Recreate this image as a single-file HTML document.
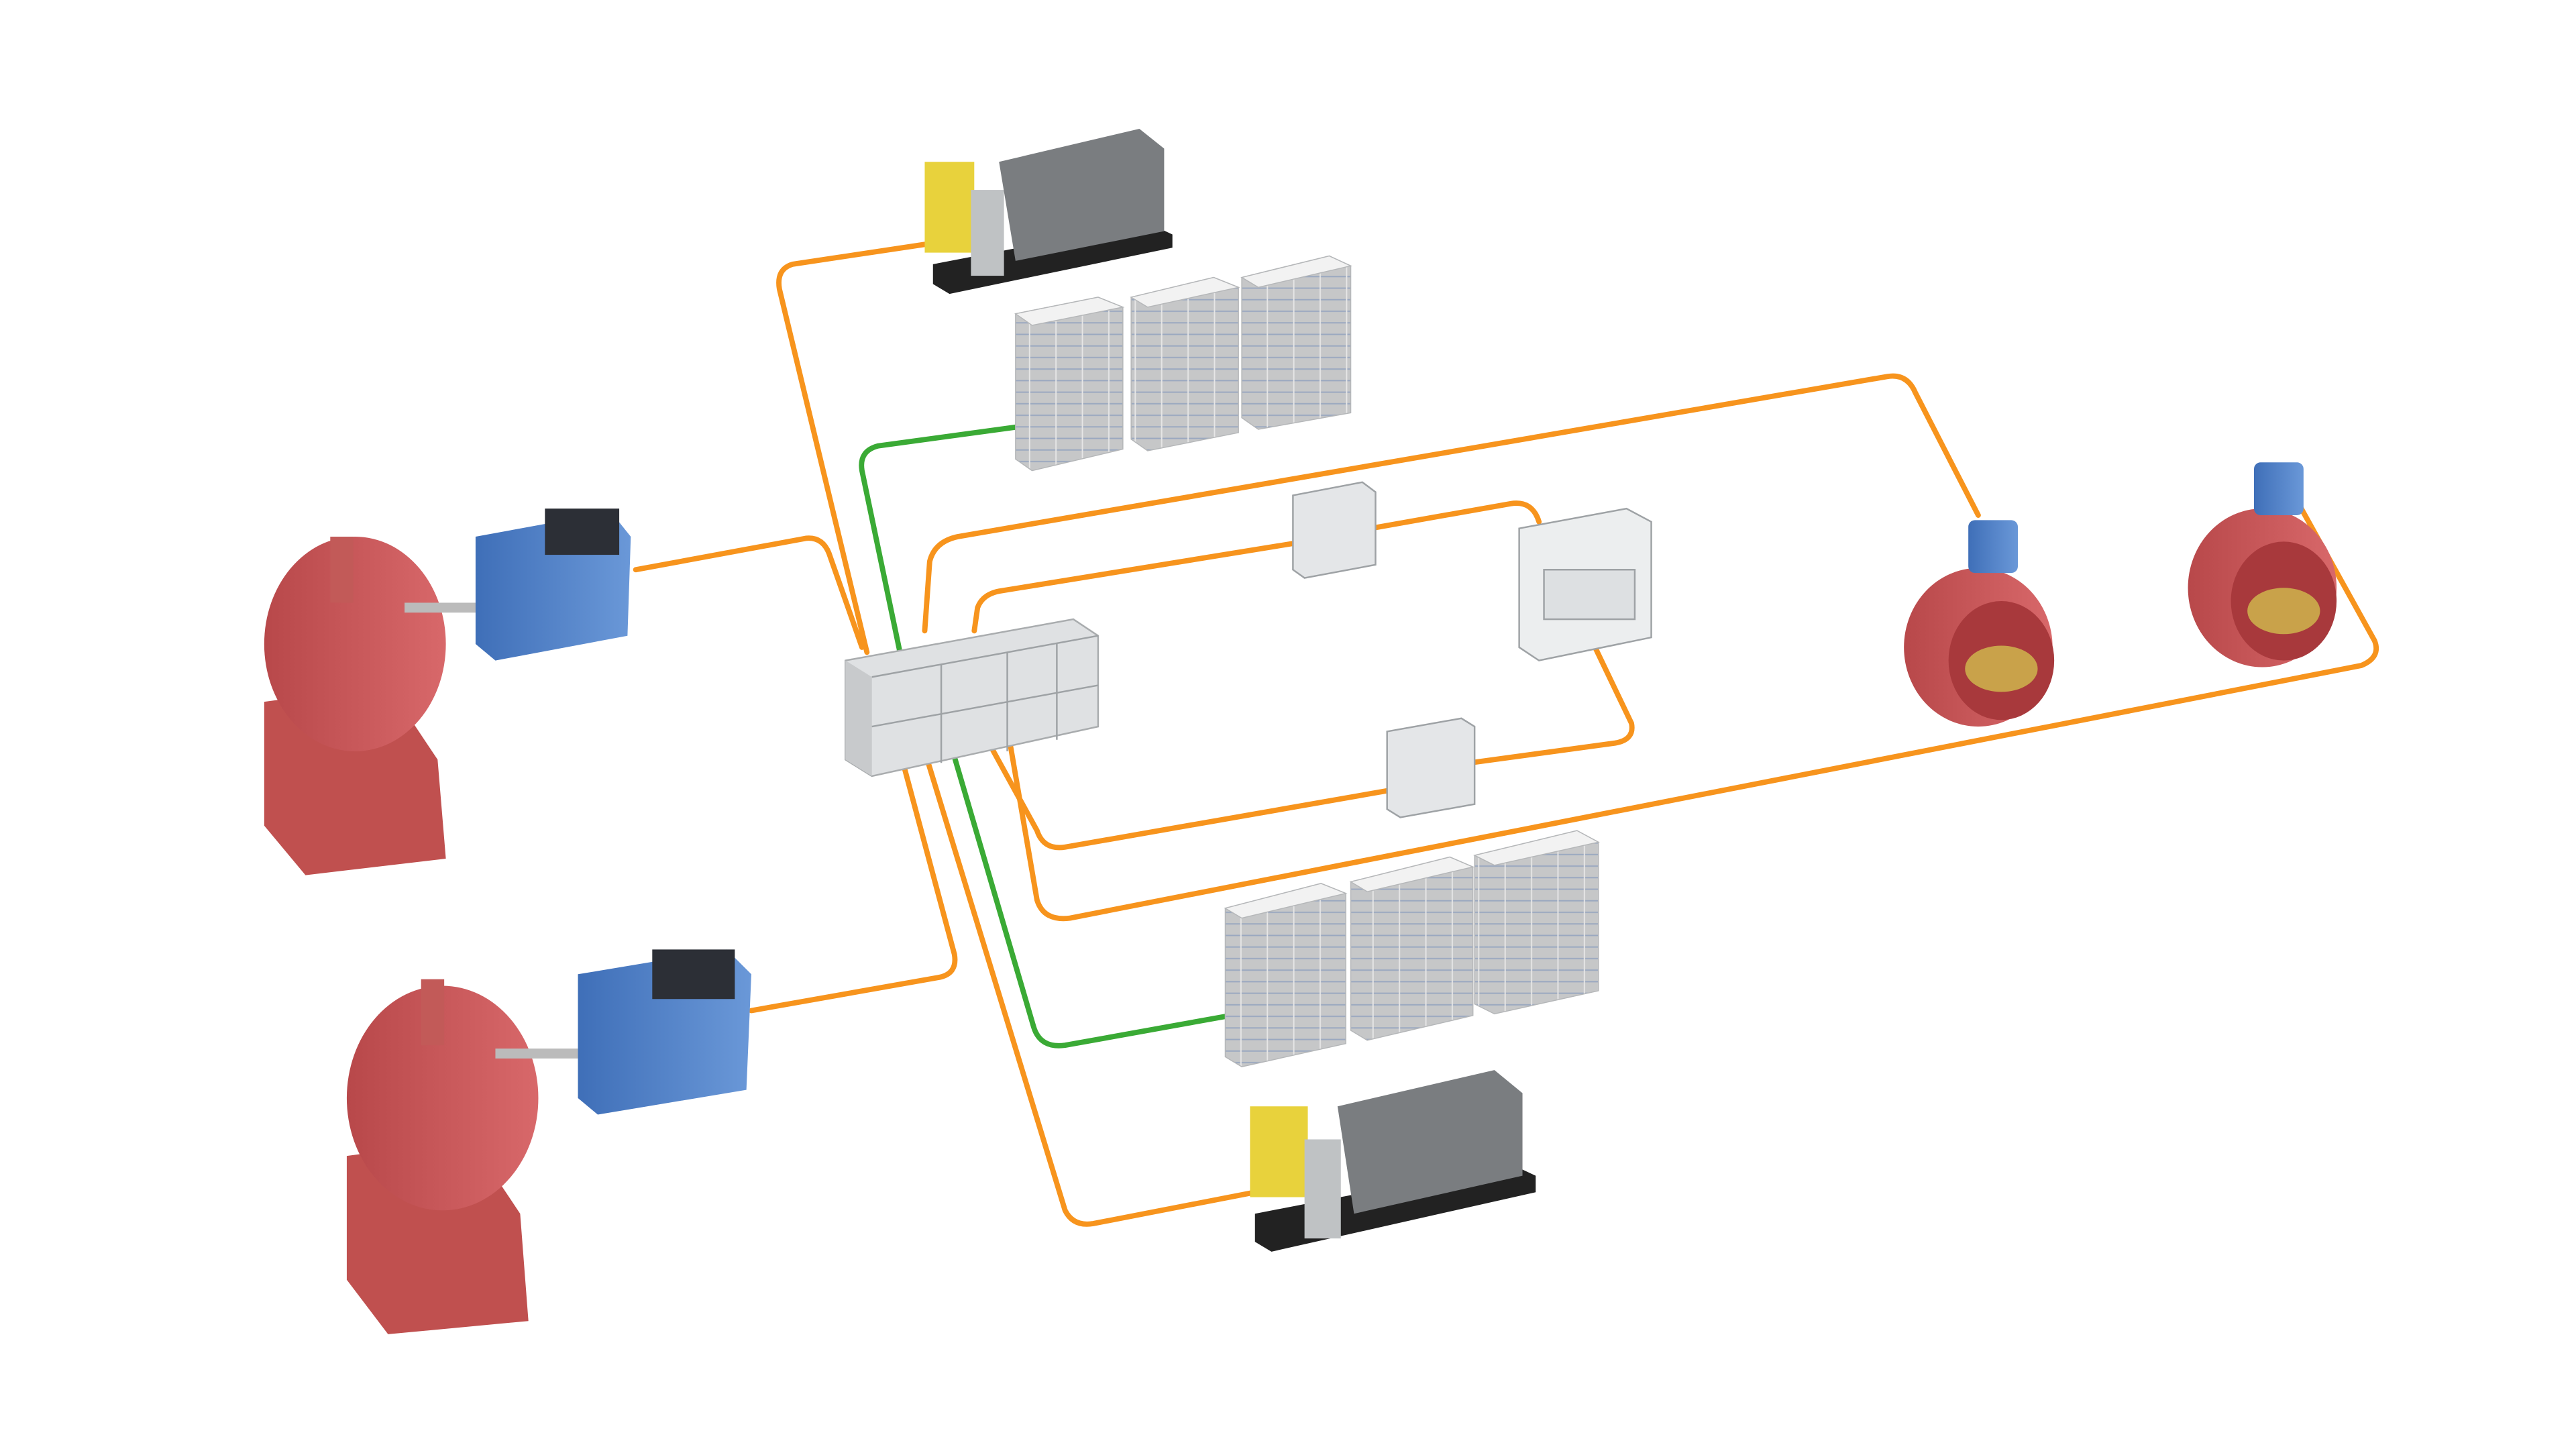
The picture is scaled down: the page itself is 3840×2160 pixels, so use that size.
<!DOCTYPE html>
<html><head><meta charset="utf-8"><style>html,body{margin:0;padding:0;background:#fff;width:3840px;height:2160px;overflow:hidden}svg{display:block}</style></head>
<body>
<svg width="3840" height="2160" viewBox="0 0 1560 877.5" preserveAspectRatio="none" xmlns="http://www.w3.org/2000/svg">
<defs>
<linearGradient id="red" x1="0" x2="1"><stop offset="0" stop-color="#b8484a"/><stop offset="1" stop-color="#d8686a"/></linearGradient>
<linearGradient id="blue" x1="0" x2="1"><stop offset="0" stop-color="#3f6fb8"/><stop offset="1" stop-color="#6a98d8"/></linearGradient>
<pattern id="grid" width="16" height="7" patternUnits="userSpaceOnUse"><rect width="16" height="7" fill="#c6c7c8"/><path d="M0 6.5H16" stroke="#9aa8c0" stroke-width="0.8"/><path d="M15.5 0V7" stroke="#e6e6e6" stroke-width="0.8"/></pattern>
</defs>
<g fill="none" stroke="#f7941d" stroke-width="3.2" stroke-linecap="round" stroke-linejoin="round">
<path d="M560 148 L480 160 Q470 163 472 175 L525 395"/>
<path d="M385 345 L488 326 Q498 325 502 335 L522 392"/>
<path d="M560 382 L563 340 Q566 328 580 325 L1143 228 Q1155 226 1160 238 L1198 312"/>
<path d="M590 382 L592 368 Q595 360 605 358 L790 328"/>
<path d="M830 320 L915 305 Q928 303 932 316"/>
<path d="M965 390 L988 438 Q990 448 978 450 L890 462"/>
<path d="M845 478 L645 513 Q632 515 628 503 L600 452"/>
<path d="M612 452 L628 545 Q632 558 648 556 L1430 403 Q1442 398 1438 388 L1392 305"/>
<path d="M545 455 L578 578 Q580 590 568 592 L455 612"/>
<path d="M560 455 L645 733 Q650 743 662 741 L760 722"/>
</g>
<g fill="none" stroke="#3aaa35" stroke-width="3.2" stroke-linecap="round" stroke-linejoin="round">
<path d="M620 258 L532 270 Q520 273 522 285 L545 395"/>
<path d="M577 455 L626 622 Q630 635 645 633 L745 615"/>
</g>
<polygon points="512,400 650,375 665,385 665,440 528,470 512,460" fill="#dfe1e3" stroke="#a9acae"/>
<polygon points="512,400 528,410 528,470 512,460" fill="#c8cacc"/>
<path d="M528 410 L665 385 M570 402 L570 462 M610 395 L610 455 M640 390 L640 448 M528 440 L665 415" stroke="#9ea2a5" fill="none"/>
<g stroke="#b5b7b9" stroke-width="0.6">
<polygon points="615,190 665,180 680,186 680,272 625,285 615,278" fill="url(#grid)"/>
<polygon points="615,190 665,180 680,186 625,197" fill="#f2f2f2"/>
<polygon points="685,180 735,168 750,174 750,262 695,273 685,266" fill="url(#grid)"/>
<polygon points="685,180 735,168 750,174 695,186" fill="#f2f2f2"/>
<polygon points="752,168 805,155 818,161 818,250 762,260 752,253" fill="url(#grid)"/>
<polygon points="752,168 805,155 818,161 762,174" fill="#f2f2f2"/>
<polygon points="742,550 800,535 815,541 815,632 752,646 742,640" fill="url(#grid)"/>
<polygon points="742,550 800,535 815,541 752,556" fill="#f2f2f2"/>
<polygon points="818,534 878,519 892,525 892,615 828,630 818,624" fill="url(#grid)"/>
<polygon points="818,534 878,519 892,525 828,540" fill="#f2f2f2"/>
<polygon points="893,518 955,503 968,510 968,600 905,614 893,608" fill="url(#grid)"/>
<polygon points="893,518 955,503 968,510 905,524" fill="#f2f2f2"/>
</g>
<g stroke="#9ea2a5"><polygon points="783,300 825,292 833,298 833,342 790,350 783,345" fill="#e4e6e8"/>
<polygon points="840,443 885,435 893,440 893,487 848,495 840,490" fill="#e4e6e8"/>
<polygon points="920,320 985,308 1000,316 1000,386 932,400 920,392" fill="#eceeef"/>
<rect x="935" y="345" width="55" height="30" fill="#dde0e2"/></g>
<g>
<polygon points="565,160 695,135 710,142 710,150 575,178 565,172" fill="#222"/>
<rect x="560" y="98" width="30" height="55" fill="#e8d23c"/>
<rect x="588" y="115" width="20" height="52" fill="#bfc2c4"/>
<polygon points="605,98 690,78 705,90 705,140 615,158" fill="#7a7d80"/>
<polygon points="760,735 915,705 930,712 930,722 770,758 760,752" fill="#222"/>
<rect x="757" y="670" width="35" height="55" fill="#e8d23c"/>
<rect x="790" y="690" width="22" height="60" fill="#bfc2c4"/>
<polygon points="810,670 905,648 922,662 922,712 820,735" fill="#7a7d80"/>
</g>
<g>
<path d="M160 425 L235 415 L265 460 L270 520 L185 530 L160 500Z" fill="#c0504f"/>
<ellipse cx="215" cy="390" rx="55" ry="65" fill="url(#red)"/>
<rect x="200" y="325" width="14" height="40" fill="#c25a58"/>
<rect x="245" y="365" width="45" height="6" fill="#bbb"/>
<polygon points="288,325 370,310 382,325 380,385 300,400 288,390" fill="url(#blue)"/>
<rect x="330" y="308" width="45" height="28" fill="#2c2f36"/>
<path d="M210 700 L285 690 L315 735 L320 800 L235 808 L210 775Z" fill="#c0504f"/>
<ellipse cx="268" cy="665" rx="58" ry="68" fill="url(#red)"/>
<rect x="255" y="593" width="14" height="40" fill="#c25a58"/>
<rect x="300" y="635" width="50" height="6" fill="#bbb"/>
<polygon points="350,590 440,575 455,590 452,660 362,675 350,665" fill="url(#blue)"/>
<rect x="395" y="575" width="50" height="30" fill="#2c2f36"/>
</g>
<g>
<ellipse cx="1198" cy="392" rx="45" ry="48" fill="url(#red)"/>
<ellipse cx="1212" cy="400" rx="32" ry="36" fill="#a8393c"/>
<ellipse cx="1212" cy="405" rx="22" ry="14" fill="#c9a24a"/>
<rect x="1192" y="315" width="30" height="32" rx="4" fill="url(#blue)"/>
<ellipse cx="1370" cy="356" rx="45" ry="48" fill="url(#red)"/>
<ellipse cx="1383" cy="364" rx="32" ry="36" fill="#a8393c"/>
<ellipse cx="1383" cy="370" rx="22" ry="14" fill="#c9a24a"/>
<rect x="1365" y="280" width="30" height="32" rx="4" fill="url(#blue)"/>
</g>
</svg>
</body></html>
